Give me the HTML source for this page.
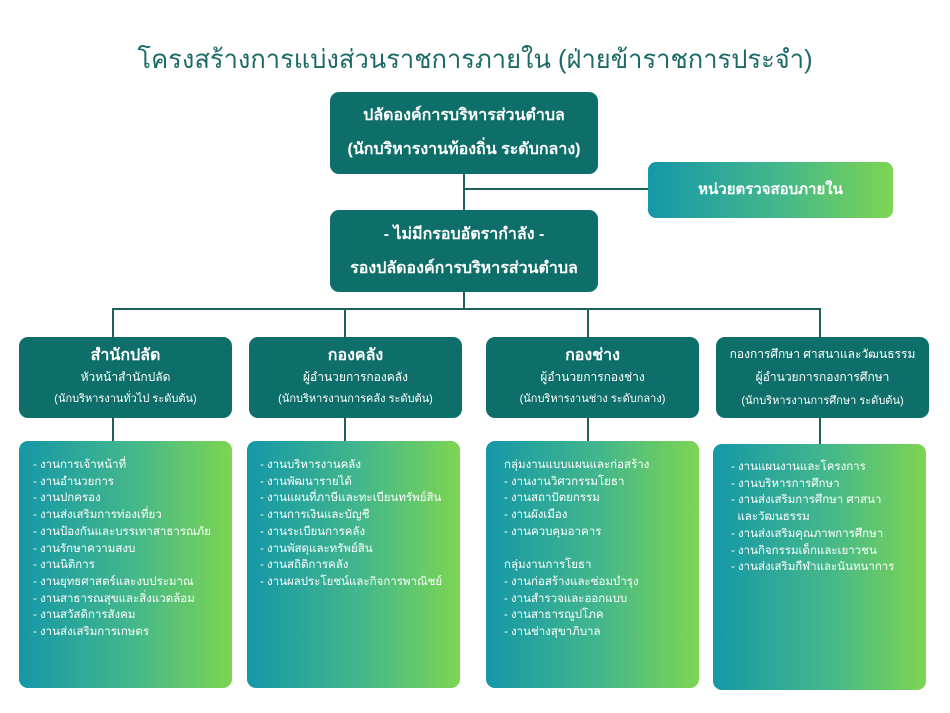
<!DOCTYPE html>
<html><head><meta charset="utf-8"><style>
body{margin:0;width:950px;height:713px;background:#fff;position:relative;overflow:hidden;font-family:"Liberation Sans","Noto Sans CJK SC",sans-serif;}
.a{position:absolute}
.d{background:#0e6e69;border-radius:9px;color:#fff;text-align:center;box-sizing:border-box}
.g{background:linear-gradient(90deg,#1597a8,#45b88a 55%,#7dd552);border-radius:9px;color:#fff;box-sizing:border-box;font-size:11.5px;line-height:16.7px}
.l{position:absolute;background:#20605c}
</style></head><body>
<div class="a" style="left:0;width:950px;top:40px;text-align:center;font-size:25.5px;color:#1c6a67">โครงสร้างการแบ่งส่วนราชการภายใน (ฝ่ายข้าราชการประจำ)</div>
<div class="l" style="left:463px;top:174px;width:2px;height:36px"></div>
<div class="l" style="left:463px;top:188px;width:186px;height:2px"></div>
<div class="l" style="left:463px;top:292px;width:2px;height:17px"></div>
<div class="l" style="left:112px;top:308px;width:709px;height:2px"></div>
<div class="l" style="left:112px;top:308px;width:2px;height:30px"></div>
<div class="l" style="left:344px;top:308px;width:2px;height:30px"></div>
<div class="l" style="left:587px;top:308px;width:2px;height:30px"></div>
<div class="l" style="left:819px;top:308px;width:2px;height:30px"></div>
<div class="l" style="left:112px;top:418px;width:2px;height:24px"></div>
<div class="l" style="left:344px;top:418px;width:2px;height:24px"></div>
<div class="l" style="left:587px;top:418px;width:2px;height:24px"></div>
<div class="l" style="left:819px;top:418px;width:2px;height:26px"></div>
<div class="a d" style="left:330px;top:92px;width:268px;height:82px;padding-top:7px;font-size:16px;font-weight:bold;line-height:34px">ปลัดองค์การบริหารส่วนตำบล<br>(นักบริหารงานท้องถิ่น ระดับกลาง)</div>
<div class="a g" style="left:648px;top:162px;width:245px;height:56px;text-align:center;line-height:56px;font-size:15px;font-weight:bold;border-radius:8px">หน่วยตรวจสอบภายใน</div>
<div class="a d" style="left:330px;top:210px;width:268px;height:82px;padding-top:8px;font-size:16px;font-weight:bold;line-height:34px">- ไม่มีกรอบอัตรากำลัง -<br>รองปลัดองค์การบริหารส่วนตำบล</div>
<div class="a d" style="left:19px;top:337px;width:213px;height:81px;padding-top:8px;font-size:12px;line-height:21px"><b style="font-size:16px">สำนักปลัด</b><br>หัวหน้าสำนักปลัด<br><span style="font-size:11px">(นักบริหารงานทั่วไป ระดับต้น)</span></div>
<div class="a d" style="left:249px;top:337px;width:213px;height:81px;padding-top:8px;font-size:12px;line-height:21px"><b style="font-size:16px">กองคลัง</b><br>ผู้อำนวยการกองคลัง<br><span style="font-size:11px">(นักบริหารงานการคลัง ระดับต้น)</span></div>
<div class="a d" style="left:486px;top:337px;width:213px;height:81px;padding-top:8px;font-size:12px;line-height:21px"><b style="font-size:16px">กองช่าง</b><br>ผู้อำนวยการกองช่าง<br><span style="font-size:11px">(นักบริหารงานช่าง ระดับกลาง)</span></div>
<div class="a d" style="left:716px;top:337px;width:213px;height:81px;padding-top:6px;font-size:12px;line-height:23px">กองการศึกษา ศาสนาและวัฒนธรรม<br>ผู้อำนวยการกองการศึกษา<br><span style="font-size:11px">(นักบริหารงานการศึกษา ระดับต้น)</span></div>
<div class="a g" style="left:19px;top:441px;width:213px;height:247px;padding:16px 0 0 14px">- งานการเจ้าหน้าที่<br>- งานอำนวยการ<br>- งานปกครอง<br>- งานส่งเสริมการท่องเที่ยว<br>- งานป้องกันและบรรเทาสาธารณภัย<br>- งานรักษาความสงบ<br>- งานนิติการ<br>- งานยุทธศาสตร์และงบประมาณ<br>- งานสาธารณสุขและสิ่งแวดล้อม<br>- งานสวัสดิการสังคม<br>- งานส่งเสริมการเกษตร</div>
<div class="a g" style="left:247px;top:441px;width:213px;height:247px;padding:16px 0 0 13px">- งานบริหารงานคลัง<br>- งานพัฒนารายได้<br>- งานแผนที่ภาษีและทะเบียนทรัพย์สิน<br>- งานการเงินและบัญชี<br>- งานระเบียนการคลัง<br>- งานพัสดุและทรัพย์สิน<br>- งานสถิติการคลัง<br>- งานผลประโยชน์และกิจการพาณิชย์</div>
<div class="a g" style="left:486px;top:441px;width:213px;height:247px;padding:16px 0 0 18px">กลุ่มงานแบบแผนและก่อสร้าง<br>- งานงานวิศวกรรมโยธา<br>- งานสถาปัตยกรรม<br>- งานผังเมือง<br>- งานควบคุมอาคาร<br><br>กลุ่มงานการโยธา<br>- งานก่อสร้างและซ่อมบำรุง<br>- งานสำรวจและออกแบบ<br>- งานสาธารณูปโภค<br>- งานช่างสุขาภิบาล</div>
<div class="a g" style="left:713px;top:444px;width:213px;height:246px;padding:15px 0 0 18px">- งานแผนงานและโครงการ<br>- งานบริหารการศึกษา<br>- งานส่งเสริมการศึกษา ศาสนา<br>&nbsp;&nbsp;และวัฒนธรรม<br>- งานส่งเสริมคุณภาพการศึกษา<br>- งานกิจกรรมเด็กและเยาวชน<br>- งานส่งเสริมกีฬาและนันทนาการ</div>
</body></html>
